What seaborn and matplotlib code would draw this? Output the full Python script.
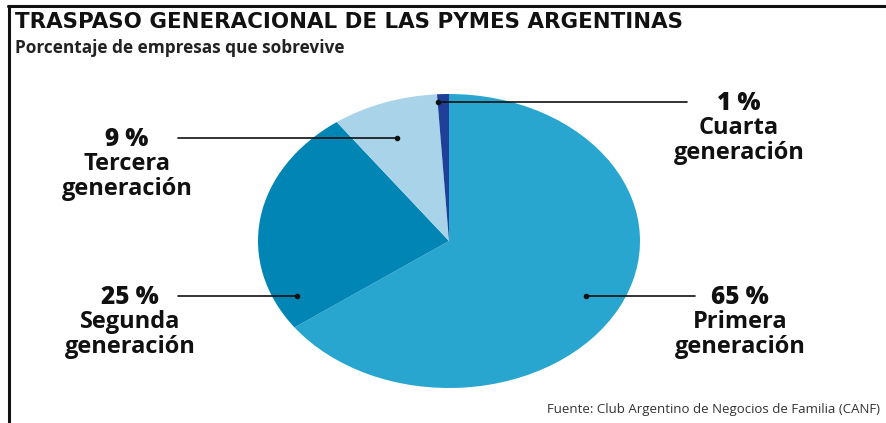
import matplotlib
matplotlib.use("Agg")
import matplotlib.pyplot as plt
import seaborn as sns
from matplotlib.lines import Line2D

# ---- data ----
categories = ["Primera\ngeneración", "Segunda\ngeneración", "Tercera\ngeneración", "Cuarta\ngeneración"]
values = [65, 25, 9, 1]
pct_labels = ["65 %", "25 %", "9 %", "1 %"]
title = "TRASPASO GENERACIONAL DE LAS PYMES ARGENTINAS"
subtitle = "Porcentaje de empresas que sobrevive"
source = "Fuente: Club Argentino de Negocios de Familia (CANF)"

# ---- style ----
sns.set_theme(style="white")
plt.rcParams['font.family'] = ['Open Sans', 'DejaVu Sans']
colors = sns.color_palette(["#29a6d0", "#0085b5", "#a9d3e8", "#1f3f99"])

W, H = 887, 423
fig = plt.figure(figsize=(W / 100, H / 100), dpi=100)

# pie axes spanning the ellipse (pixel box 258..640 x 94..388)
px0, px1, py0, py1 = 258, 640, 94, 388
ax = fig.add_axes([px0 / W, 1 - py1 / H, (px1 - px0) / W, (py1 - py0) / H])
ax.pie(values, colors=colors, startangle=90, counterclock=False,
       wedgeprops=dict(linewidth=0), radius=1)
ax.set_aspect('auto')
ax.set_xlim(-1, 1)
ax.set_ylim(-1, 1)
ax.axis('off')

def fx(px):
    return px / W

def fy(py):
    return 1 - py / H

# frame lines (top and left)
fig.add_artist(Line2D([fx(8), fx(886)], [fy(6), fy(6)], color="#111111", lw=2.2))
fig.add_artist(Line2D([fx(9), fx(9)], [fy(6), fy(423)], color="#111111", lw=2.2))

# title / subtitle / source
fig.text(fx(15), fy(27.5), title, fontsize=15.4, fontweight='heavy', color="#111111",
         va='baseline', ha='left', family=['DejaVu Sans'])
fig.text(fx(15), fy(53), subtitle, fontsize=12.4, fontweight='bold', color="#222222",
         va='baseline', ha='left')
fig.text(fx(880), fy(409), source, fontsize=9.5, color="#333333", va='center', ha='right')

# leader lines and labels (layout positions in pixels)
dots = [(586, 296), (297, 296), (397, 138), (438, 102)]
line_ends = [(695, 296), (178, 296), (178, 138), (687, 102)]
label_x = [740, 130, 127, 739]

for i in range(len(values)):
    (dx, dy), (ex, ey) = dots[i], line_ends[i]
    fig.add_artist(Line2D([fx(dx), fx(ex)], [fy(dy), fy(ey)], color="#111111", lw=1.2))
    fig.add_artist(Line2D([fx(dx)], [fy(dy)], marker='o', markersize=3, color="#111111"))
    lx = label_x[i]
    fig.text(fx(lx), fy(dy + 8), pct_labels[i], fontsize=17.5, fontweight='heavy',
             color="#111111", ha='center', va='baseline')
    name1, name2 = categories[i].split("\n")
    fig.text(fx(lx), fy(dy + 32), name1, fontsize=17, fontweight='bold',
             color="#111111", ha='center', va='baseline')
    fig.text(fx(lx), fy(dy + 57), name2, fontsize=17, fontweight='bold',
             color="#111111", ha='center', va='baseline')

fig.savefig("out.png", dpi=100, facecolor="white")
